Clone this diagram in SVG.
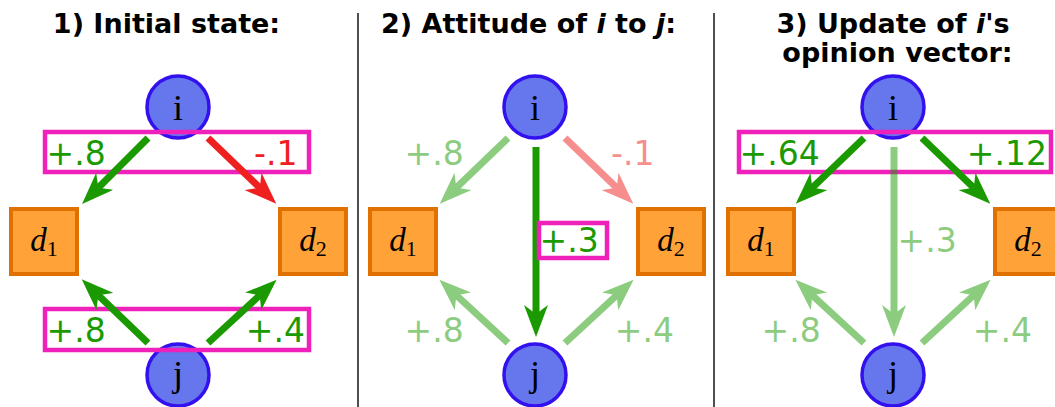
<svg xmlns="http://www.w3.org/2000/svg" width="1055" height="407" viewBox="0 0 1055 407">
<style>
.title{font-family:"DejaVu Sans",sans-serif;font-weight:bold;font-size:27px;fill:#000;text-anchor:middle}
.lbl{font-family:"DejaVu Sans",sans-serif;font-size:33px}
.g{fill:#1a9a00}
.r{fill:#ee2020}
.node{fill:#6677ee;stroke:#3311ee;stroke-width:3.5}
.doc{fill:#ffa238;stroke:#e07000;stroke-width:4}
.nt{font-family:"Liberation Serif",serif;font-size:36px;fill:#000;text-anchor:middle}
.dt{font-family:"Liberation Serif",serif;font-size:33px;fill:#000;text-anchor:middle}
.box{fill:none;stroke:#ee22bb;stroke-width:4.5}
.ag{stroke:#1a9a00;stroke-width:7;fill:none;marker-end:url(#hg)}
.ar{stroke:#ee2020;stroke-width:7;fill:none;marker-end:url(#hr)}
.div{stroke:#222;stroke-width:1.6}
</style>
<defs>
<marker id="hg" viewBox="0 0 32 24" refX="9" refY="12" markerWidth="32" markerHeight="24" markerUnits="userSpaceOnUse" orient="auto"><path d="M0,0 L32,12 L0,24 L9,12 Z" fill="#1a9a00"/></marker>
<marker id="hr" viewBox="0 0 32 24" refX="9" refY="12" markerWidth="32" markerHeight="24" markerUnits="userSpaceOnUse" orient="auto"><path d="M0,0 L32,12 L0,24 L9,12 Z" fill="#ee2020"/></marker>
</defs>
<rect width="1055" height="407" fill="#fff"/>
<g id="dividers">
<line class="div" x1="358" y1="13" x2="358" y2="407"/>
<line class="div" x1="714" y1="13" x2="714" y2="407"/>
</g>
<g id="titles">
<text class="title" x="166.5" y="33">1) Initial state:</text>
<text class="title" x="528.5" y="33">2) Attitude of <tspan font-style="italic">i</tspan> to <tspan font-style="italic">j</tspan>:</text>
<text class="title" x="893" y="33">3) Update of <tspan font-style="italic">i</tspan>'s</text>
<text class="title" x="897.5" y="62">opinion vector:</text>
</g>
<!-- Panel 1 -->
<g id="p1-i"><circle class="node" cx="178" cy="107" r="31"/><text class="nt" x="178" y="120">i</text></g>
<g id="p1-j"><circle class="node" cx="178" cy="375" r="31"/><text class="nt" x="178" y="386">j</text></g>
<g id="p1-d1"><rect class="doc" x="11" y="209" width="66" height="65"/><text class="dt" x="44" y="251"><tspan font-style="italic">d</tspan><tspan font-size="22" dy="5">1</tspan></text></g>
<g id="p1-d2"><rect class="doc" x="280" y="209" width="66" height="65"/><text class="dt" x="313" y="251"><tspan font-style="italic">d</tspan><tspan font-size="22" dy="5">2</tspan></text></g>
<g id="p1-boxes">
<rect class="box" x="45" y="132" width="264" height="40"/>
<rect class="box" x="45" y="309" width="264" height="41"/>
</g>
<g id="p1-connectors">
<line class="ag" x1="148" y1="138" x2="98.3" y2="187.7"/>
<line class="ar" x1="208" y1="138" x2="259.7" y2="187.7"/>
<line class="ag" x1="148" y1="343" x2="98.3" y2="295.3"/>
<line class="ag" x1="208" y1="343" x2="259.7" y2="295.3"/>
</g>
<g id="p1-labels">
<text class="lbl g" x="46.5" y="165">+.8</text>
<text class="lbl r" x="297.5" y="165" text-anchor="end">-.1</text>
<text class="lbl g" x="46.5" y="342">+.8</text>
<text class="lbl g" x="305" y="342" text-anchor="end">+.4</text>
</g>
<!-- Panel 2 -->
<g id="p2-i"><circle class="node" cx="535" cy="107" r="31"/><text class="nt" x="535" y="120">i</text></g>
<g id="p2-j"><circle class="node" cx="535" cy="375" r="31"/><text class="nt" x="535" y="386">j</text></g>
<g id="p2-d1"><rect class="doc" x="370" y="209" width="66" height="65"/><text class="dt" x="403" y="251"><tspan font-style="italic">d</tspan><tspan font-size="22" dy="5">1</tspan></text></g>
<g id="p2-d2"><rect class="doc" x="638" y="209" width="66" height="65"/><text class="dt" x="671" y="251"><tspan font-style="italic">d</tspan><tspan font-size="22" dy="5">2</tspan></text></g>
<g id="p2-connectors">
<g opacity="0.5"><line class="ag" x1="508" y1="138" x2="456.3" y2="187.7"/></g>
<g opacity="0.5"><line class="ar" x1="565" y1="138" x2="616.7" y2="187.7"/></g>
<g opacity="0.5"><line class="ag" x1="508" y1="343" x2="456.3" y2="295.3"/></g>
<g opacity="0.5"><line class="ag" x1="565" y1="343" x2="616.7" y2="295.3"/></g>
<line class="ag" x1="536" y1="147" x2="536" y2="314"/>
</g>
<g id="p2-box"><rect x="539" y="223" width="68" height="35" class="box" stroke-width="4"/></g>
<g id="p2-labels">
<text class="lbl g" x="404.5" y="165" opacity="0.5">+.8</text>
<text class="lbl r" x="654.5" y="165" text-anchor="end" opacity="0.5">-.1</text>
<text class="lbl g" x="404.5" y="342" opacity="0.5">+.8</text>
<text class="lbl g" x="674" y="342" text-anchor="end" opacity="0.5">+.4</text>
<text class="lbl g" x="539.5" y="252">+.3</text>
</g>
<!-- Panel 3 -->
<g id="p3-i"><circle class="node" cx="893" cy="107" r="31"/><text class="nt" x="893" y="120">i</text></g>
<g id="p3-j"><circle class="node" cx="893" cy="375" r="31"/><text class="nt" x="893" y="386">j</text></g>
<g id="p3-d1"><rect class="doc" x="728" y="209" width="66" height="65"/><text class="dt" x="761" y="251"><tspan font-style="italic">d</tspan><tspan font-size="22" dy="5">1</tspan></text></g>
<g id="p3-d2"><rect class="doc" x="995" y="209" width="66" height="65"/><text class="dt" x="1028" y="251"><tspan font-style="italic">d</tspan><tspan font-size="22" dy="5">2</tspan></text></g>
<g id="p3-box"><rect class="box" x="739" y="132" width="312" height="40"/></g>
<g id="p3-connectors">
<line class="ag" x1="864" y1="138" x2="812.3" y2="187.7"/>
<line class="ag" x1="922" y1="138" x2="973.7" y2="187.7"/>
<g opacity="0.5"><line class="ag" x1="894" y1="147" x2="894" y2="314"/></g>
<g opacity="0.5"><line class="ag" x1="864" y1="343" x2="812.3" y2="295.3"/></g>
<g opacity="0.5"><line class="ag" x1="922" y1="343" x2="973.7" y2="295.3"/></g>
</g>
<g id="p3-labels">
<text class="lbl g" x="739.5" y="165">+.64</text>
<text class="lbl g" x="1047" y="165" text-anchor="end">+.12</text>
<text class="lbl g" x="897.5" y="252" opacity="0.5">+.3</text>
<text class="lbl g" x="761.5" y="342" opacity="0.5">+.8</text>
<text class="lbl g" x="1032" y="342" text-anchor="end" opacity="0.5">+.4</text>
</g>
</svg>
